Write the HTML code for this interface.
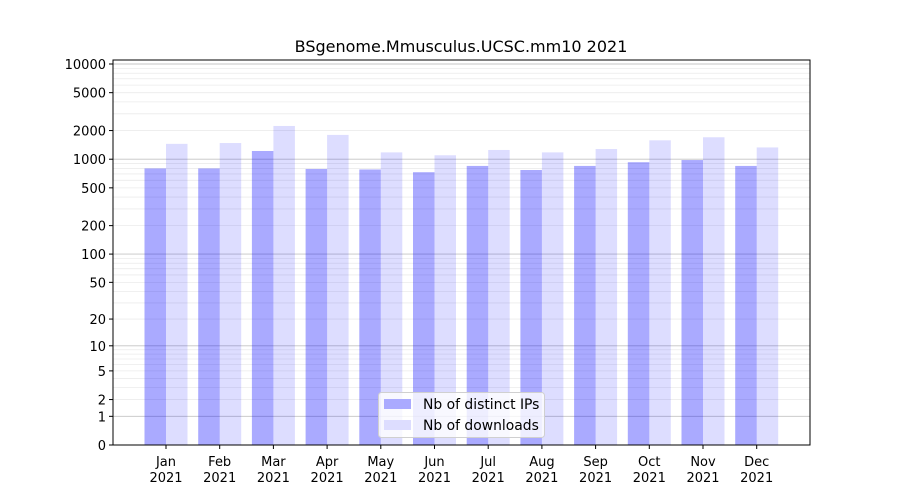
<!DOCTYPE html>
<html><head><meta charset="utf-8"><style>body{margin:0;background:#fff}svg{display:block}text{font-family:"DejaVu Sans","Liberation Sans",sans-serif;fill:#000}</style></head>
<body>
<svg id="s" width="900" height="500" xmlns="http://www.w3.org/2000/svg"></svg>
<script>
const s=document.getElementById('s');let h='';
const Y=v=>445-Math.log10(v+1)*95.25;
const L=113,R=810;
for(let d=1;d<=10000;d*=10)for(let k=2;k<=9;k++){const v=d*k;if(v>11000)break;const y=Y(v);if(y<60)continue;h+=`<line x1="${L}" x2="${R}" y1="${y}" y2="${y}" stroke="#ebebeb" stroke-width="0.8"/>`;}
for(const v of [1,10,100,1000,10000]){const y=Y(v);h+=`<line x1="${L}" x2="${R}" y1="${y}" y2="${y}" stroke="#c4c4c4" stroke-width="0.9"/>`;}
const ips=[800,800,1220,790,780,730,850,770,850,930,980,850];
const dl=[1450,1480,2235,1800,1180,1100,1250,1180,1280,1580,1700,1330];
const m=['Jan','Feb','Mar','Apr','May','Jun','Jul','Aug','Sep','Oct','Nov','Dec'];
for(let i=0;i<12;i++){const c=166+i*53.7;
h+=`<rect x="${c-21.5}" y="${Y(ips[i])}" width="21.5" height="${445-Y(ips[i])}" fill="#0000ff" fill-opacity="0.333"/>`;
h+=`<rect x="${c}" y="${Y(dl[i])}" width="21.5" height="${445-Y(dl[i])}" fill="#0000ff" fill-opacity="0.133"/>`;
h+=`<line x1="${c}" x2="${c}" y1="445" y2="449" stroke="#000"/>`;
h+=`<text x="${c}" y="466" font-size="13" text-anchor="middle">${m[i]}</text><text x="${c}" y="482" font-size="13" text-anchor="middle">2021</text>`;}
for(const v of [0,1,2,5,10,20,50,100,200,500,1000,2000,5000,10000]){const y=Y(v);
h+=`<line x1="${L-4}" x2="${L}" y1="${y}" y2="${y}" stroke="#000"/><text x="${L-7}" y="${y+5}" font-size="13" text-anchor="end">${v}</text>`;}
h+=`<rect x="${L}" y="60" width="${R-L}" height="385" fill="none" stroke="#000" stroke-width="1"/>`;
h+=`<text x="461" y="52" font-size="16" text-anchor="middle">BSgenome.Mmusculus.UCSC.mm10 2021</text>`;
h+=`<rect x="378.5" y="392.5" width="166" height="45" rx="3" fill="#fff" fill-opacity="0.8" stroke="#d0d0d0"/>`;
h+=`<rect x="384" y="399" width="27" height="10" fill="#aaaaff"/><text x="423" y="409" font-size="13.9">Nb of distinct IPs</text>`;
h+=`<rect x="384" y="420" width="27" height="10" fill="#ddddff"/><text x="423" y="430" font-size="13.9">Nb of downloads</text>`;
s.innerHTML=h;
</script>
</body></html>
